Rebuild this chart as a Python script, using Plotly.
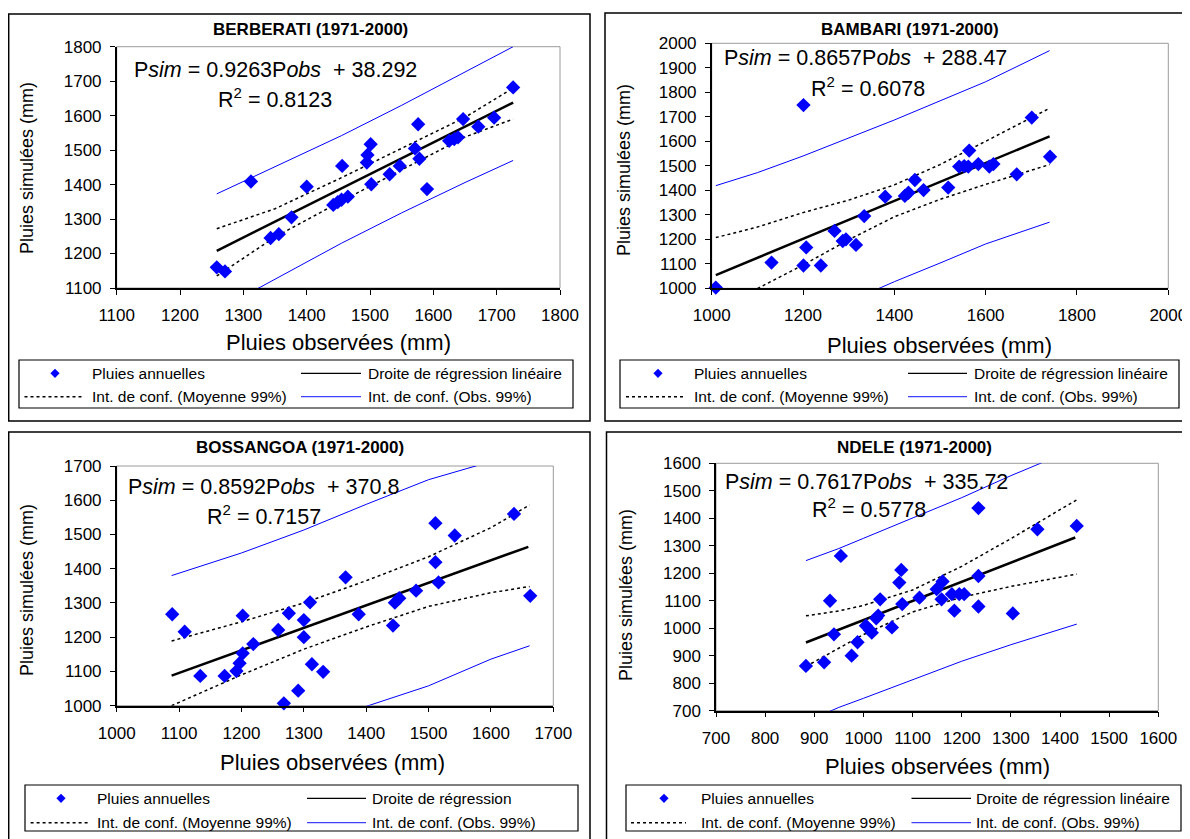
import plotly.graph_objects as go

# The page body has an 8 px margin: the figure is sized and positioned so that
# reference pixel (x, y) maps onto the screenshot pixel (x, y).
OFF = 8
W, H = 1190 - OFF, 839 - OFF
FONT = "Liberation Sans, Arial, sans-serif"

# ---------------- DATA ----------------
# BERBERATI
ber_obs = [1258, 1271, 1312, 1343, 1356, 1376, 1400, 1442, 1449, 1455, 1465, 1456, 1495, 1496, 1501,
           1502, 1531, 1547, 1571, 1576, 1578, 1590, 1625, 1633, 1639, 1647, 1671, 1696, 1726]
ber_sim = [1160, 1148, 1409, 1245, 1256, 1305, 1394, 1341, 1349, 1356, 1365, 1454, 1464, 1486, 1517,
           1401, 1430, 1454, 1505, 1575, 1475, 1387, 1527, 1532, 1537, 1590, 1568, 1594, 1682]
ber_reg_x = [1258, 1726]
ber_reg_y = [1208, 1638]
ber_ci_x = [1258, 1350, 1455, 1550, 1650, 1726]
ber_mean_up = [1272, 1330, 1420, 1505, 1595, 1680]
ber_mean_lo = [1135, 1248, 1352, 1443, 1538, 1590]
ber_obs_up = [1373, 1452, 1542, 1630, 1727, 1800]
ber_obs_lo = [1034, 1126, 1230, 1318, 1406, 1470]

# BAMBARI
bam_obs = [1009, 1131, 1201, 1207, 1201, 1239, 1269, 1287, 1294, 1316, 1334, 1380, 1423, 1431,
           1445, 1464, 1518, 1542, 1553, 1564, 1562, 1584, 1608, 1617, 1668, 1701, 1741]
bam_sim = [1003, 1105, 1748, 1167, 1093, 1093, 1234, 1193, 1200, 1177, 1295, 1374, 1377, 1390,
           1442, 1401, 1411, 1497, 1499, 1562, 1497, 1507, 1497, 1507, 1465, 1697, 1537]
bam_reg_x = [1009, 1740]
bam_reg_y = [1054, 1620]
bam_ci_x = [1009, 1100, 1200, 1300, 1400, 1500, 1600, 1740]
bam_mean_up = [1207, 1250, 1309, 1360, 1422, 1505, 1600, 1735]
bam_mean_lo = [901, 999, 1095, 1198, 1292, 1363, 1424, 1505]
bam_obs_up = [1419, 1472, 1540, 1612, 1687, 1765, 1843, 1970]
bam_obs_lo = [689, 777, 864, 946, 1027, 1103, 1181, 1270]

# BOSSANGOA
bos_obs = [1089, 1109, 1134, 1173, 1192, 1197, 1202, 1202, 1219, 1259, 1268, 1276, 1291, 1300, 1300,
           1310, 1313, 1331, 1367, 1388, 1443, 1446, 1453, 1480, 1511, 1511, 1516, 1542, 1637, 1663]
bos_sim = [1267, 1216, 1087, 1087, 1101, 1124, 1153, 1263, 1180, 1221, 1007, 1270, 1044, 1250, 1200,
           1302, 1121, 1099, 1375, 1267, 1234, 1301, 1314, 1336, 1533, 1419, 1360, 1497, 1560, 1321]
bos_reg_x = [1088, 1660]
bos_reg_y = [1088, 1464]
bos_ci_x = [1088, 1200, 1300, 1400, 1500, 1600, 1662]
bos_mean_up = [1189, 1245, 1300, 1365, 1435, 1520, 1586]
bos_mean_lo = [1000, 1090, 1165, 1230, 1290, 1330, 1348]
bos_obs_up = [1380, 1446, 1513, 1588, 1660, 1713, 1755]
bos_obs_lo = [796, 877, 942, 998, 1058, 1136, 1175]

# NDELE
nde_obs = [883, 920, 932, 940, 954, 976, 988, 1005, 1013, 1017, 1026, 1034, 1030, 1058, 1073, 1077,
           1079, 1114, 1149, 1161, 1159, 1180, 1185, 1195, 1205, 1234, 1234, 1234, 1304, 1354, 1434]
nde_sim = [863, 876, 1100, 978, 1263, 900, 949, 1009, 994, 984, 1036, 1105, 1046, 1003, 1166, 1212,
           1088, 1111, 1142, 1170, 1105, 1124, 1064, 1124, 1124, 1437, 1190, 1079, 1054, 1360, 1372]
nde_reg_x = [883, 1431]
nde_reg_y = [948, 1330]
nde_ci_x = [883, 950, 1000, 1100, 1200, 1300, 1434]
nde_mean_up = [1045, 1063, 1083, 1139, 1225, 1326, 1467]
nde_mean_lo = [861, 927, 977, 1059, 1113, 1152, 1197]
nde_obs_up = [1246, 1290, 1327, 1400, 1475, 1555, 1655]
nde_obs_lo = [660, 712, 745, 812, 880, 940, 1015]

titles = ["BERBERATI (1971-2000)", "BAMBARI (1971-2000)", "BOSSANGOA (1971-2000)", "NDELE (1971-2000)"]
equations = ["0.9263", "38.292", "0.8123",
             "0.8657", "288.47", "0.6078",
             "0.8592", "370.8", "0.7157",
             "0.7617", "335.72", "0.5778"]
leg_labels = ["Pluies annuelles", "Droite de régression linéaire",
              "Int. de conf. (Moyenne 99%)", "Int. de conf. (Obs. 99%)"]
leg_reg_short = "Droite de régression"
x_title = "Pluies observées (mm)"
y_title = "Pluies simulées (mm)"


# ---------------- LAYOUT GEOMETRY (reference pixels) ----------------
def px(x):
    return (x - OFF) / W


def py(y):
    return 1 - (y - OFF) / H


panels = [
    dict(data=(ber_obs, ber_sim, ber_reg_x, ber_reg_y, ber_ci_x, ber_mean_up, ber_mean_lo, ber_obs_up, ber_obs_lo),
         xpx=(116.7, 560), ypx=(46.7, 288), xr=[1100, 1800], xd=100, yr=[1100, 1800], yd=100,
         box=(8.7, 14, 590, 421), title=(310, 29), eq=(131.7, 69.7), r2=(275, 98),
         xt=(338, 342), yt=(27, 168),
         leg=dict(box=(19, 360, 573, 408), rows=(373.3, 396.7), mk=55, sym1=(24.5, 82), t1=90,
                  sym2=(301, 361), t2=366, reg=leg_labels[1])),
    dict(data=(bam_obs, bam_sim, bam_reg_x, bam_reg_y, bam_ci_x, bam_mean_up, bam_mean_lo, bam_obs_up, bam_obs_lo),
         xpx=(711.7, 1168.3), ypx=(43.3, 288.3), xr=[1000, 2000], xd=200, yr=[1000, 2000], yd=100,
         box=(605, 13, 1200, 421), title=(910, 29), eq=(721.7, 58.3), r2=(867.5, 86.7),
         xt=(939, 345), yt=(624, 170),
         leg=dict(box=(620, 360, 1179, 408), rows=(373.3, 396.7), mk=658, sym1=(626, 685), t1=692,
                  sym2=(908, 967), t2=972, reg=leg_labels[1])),
    dict(data=(bos_obs, bos_sim, bos_reg_x, bos_reg_y, bos_ci_x, bos_mean_up, bos_mean_lo, bos_obs_up, bos_obs_lo),
         xpx=(116.7, 553.3), ypx=(466, 705.7), xr=[1000, 1700], xd=100, yr=[1000, 1700], yd=100,
         box=(8.7, 432, 590, 848), title=(300, 447), eq=(126, 486.7), r2=(263.8, 515),
         xt=(333, 762), yt=(27, 590),
         leg=dict(box=(25, 785, 578, 831), rows=(798.3, 822.7), mk=61, sym1=(30.6, 90), t1=95,
                  sym2=(307, 366), t2=370, reg=leg_reg_short)),
    dict(data=(nde_obs, nde_sim, nde_reg_x, nde_reg_y, nde_ci_x, nde_mean_up, nde_mean_lo, nde_obs_up, nde_obs_lo),
         xpx=(716, 1158.3), ypx=(463.3, 710.7), xr=[700, 1600], xd=100, yr=[700, 1600], yd=100,
         box=(606.5, 432, 1200, 848), title=(914.6, 447), eq=(723.3, 481.7), r2=(869, 508.3),
         xt=(937, 766), yt=(626, 595),
         leg=dict(box=(626, 785, 1181, 831), rows=(798.3, 822.7), mk=664, sym1=(631, 686), t1=698.6,
                  sym2=(911.5, 971), t2=974, reg=leg_labels[1])),
]

fig = go.Figure()
shapes = []
annotations = []
layout_axes = {}

BLUE = "#0000FF"

for i, p in enumerate(panels):
    n = i + 1
    xa = "x" if n == 1 else f"x{n}"
    ya = "y" if n == 1 else f"y{n}"
    xkey = "xaxis" if n == 1 else f"xaxis{n}"
    ykey = "yaxis" if n == 1 else f"yaxis{n}"
    obs, sim, rx, ry, cx, mu, ml, ou, ol = p["data"]

    # confidence intervals
    for yy in (ou, ol):
        fig.add_trace(go.Scatter(x=cx, y=yy, xaxis=xa, yaxis=ya, mode="lines",
                                 line=dict(color=BLUE, width=1), showlegend=False, hoverinfo="skip"))
    for yy in (mu, ml):
        fig.add_trace(go.Scatter(x=cx, y=yy, xaxis=xa, yaxis=ya, mode="lines",
                                 line=dict(color="black", width=1.5, dash="dot"), showlegend=False,
                                 hoverinfo="skip"))
    # regression line
    fig.add_trace(go.Scatter(x=rx, y=ry, xaxis=xa, yaxis=ya, mode="lines",
                             line=dict(color="black", width=2.5), showlegend=False, hoverinfo="skip"))
    # points
    fig.add_trace(go.Scatter(x=obs, y=sim, xaxis=xa, yaxis=ya, mode="markers",
                             marker=dict(symbol="diamond", size=11, color=BLUE, line=dict(width=0)),
                             showlegend=False, cliponaxis=False))

    x0, x1 = p["xpx"]
    y0, y1 = p["ypx"]
    common = dict(showgrid=False, zeroline=False, showline=True, linecolor="black", linewidth=1.5,
                  ticks="outside", ticklen=5, tickwidth=1, tickcolor="black", automargin=False,
                  tickfont=dict(family=FONT, size=17, color="black"))
    layout_axes[xkey] = dict(domain=[px(x0), px(x1)], anchor=ya, range=p["xr"], dtick=p["xd"],
                             tick0=p["xr"][0], ticklabelstandoff=6, **common)
    layout_axes[ykey] = dict(domain=[py(y1), py(y0)], anchor=xa, range=p["yr"], dtick=p["yd"],
                             tick0=p["yr"][0], ticklabelstandoff=5, **common)

    # plot-area gray border
    shapes.append(dict(type="rect", xref=f"{xa} domain", yref=f"{ya} domain", x0=0, x1=1, y0=0, y1=1,
                       line=dict(color="#9a9a9a", width=1), layer="below"))
    # panel frame
    bx0, by0, bx1, by1 = p["box"]
    shapes.append(dict(type="rect", xref="paper", yref="paper", x0=px(bx0), x1=px(bx1),
                       y0=py(by1), y1=py(by0), line=dict(color="black", width=1.5)))

    # title
    annotations.append(dict(text=f"<b>{titles[i]}</b>", x=px(p["title"][0]), y=py(p["title"][1]),
                            xref="paper", yref="paper", showarrow=False, xanchor="center",
                            yanchor="middle", font=dict(family=FONT, size=17, color="black")))
    # equation
    a, b, r2 = equations[3 * i: 3 * i + 3]
    annotations.append(dict(text=f"P<i>sim</i> = {a}P<i>obs</i>\u00a0 + {b}",
                            x=px(p["eq"][0]), y=py(p["eq"][1]), xref="paper", yref="paper",
                            showarrow=False, xanchor="left", yanchor="middle",
                            font=dict(family=FONT, size=21.5, color="black")))
    annotations.append(dict(text=f"R<sup>2</sup> = {r2}",
                            x=px(p["r2"][0]), y=py(p["r2"][1]), xref="paper", yref="paper",
                            showarrow=False, xanchor="center", yanchor="middle",
                            font=dict(family=FONT, size=21.5, color="black")))
    # axis titles
    annotations.append(dict(text=x_title, x=px(p["xt"][0]), y=py(p["xt"][1]), xref="paper", yref="paper",
                            showarrow=False, xanchor="center", yanchor="middle",
                            font=dict(family=FONT, size=22, color="black")))
    annotations.append(dict(text=y_title, x=px(p["yt"][0]), y=py(p["yt"][1]), xref="paper", yref="paper",
                            showarrow=False, xanchor="center", yanchor="middle", textangle=-90,
                            font=dict(family=FONT, size=18, color="black")))

    # legend box
    L = p["leg"]
    lx0, ly0, lx1, ly1 = L["box"]
    shapes.append(dict(type="rect", xref="paper", yref="paper", x0=px(lx0), x1=px(lx1),
                       y0=py(ly1), y1=py(ly0), line=dict(color="black", width=1.2)))
    r1, r2y = L["rows"]
    # diamond marker symbol
    mx, d = L["mk"], 4.6
    shapes.append(dict(type="path", xref="paper", yref="paper",
                       path=f"M {px(mx)},{py(r1 - d)} L {px(mx + d)},{py(r1)} L {px(mx)},{py(r1 + d)} "
                            f"L {px(mx - d)},{py(r1)} Z",
                       fillcolor=BLUE, line=dict(width=0)))
    # regression line symbol
    shapes.append(dict(type="line", xref="paper", yref="paper", x0=px(L["sym2"][0]), x1=px(L["sym2"][1]),
                       y0=py(r1), y1=py(r1), line=dict(color="black", width=1.2)))
    # mean CI symbol
    shapes.append(dict(type="line", xref="paper", yref="paper", x0=px(L["sym1"][0]), x1=px(L["sym1"][1]),
                       y0=py(r2y), y1=py(r2y), line=dict(color="black", width=1.5, dash="dot")))
    # obs CI symbol
    shapes.append(dict(type="line", xref="paper", yref="paper", x0=px(L["sym2"][0]), x1=px(L["sym2"][1]),
                       y0=py(r2y), y1=py(r2y), line=dict(color="#4040FF", width=1.2)))
    for txt, tx, ty in ((leg_labels[0], L["t1"], r1), (L["reg"], L["t2"], r1),
                        (leg_labels[2], L["t1"], r2y), (leg_labels[3], L["t2"], r2y)):
        annotations.append(dict(text=txt, x=px(tx), y=py(ty), xref="paper", yref="paper",
                                showarrow=False, xanchor="left", yanchor="middle",
                                font=dict(family=FONT, size=15.5, color="black")))

fig.update_layout(template="none", width=W, height=H, margin=dict(l=0, r=0, t=0, b=0, pad=0),
                  paper_bgcolor="white", plot_bgcolor="white", showlegend=False,
                  shapes=shapes, annotations=annotations, **layout_axes)

fig.write_html("out.html")
